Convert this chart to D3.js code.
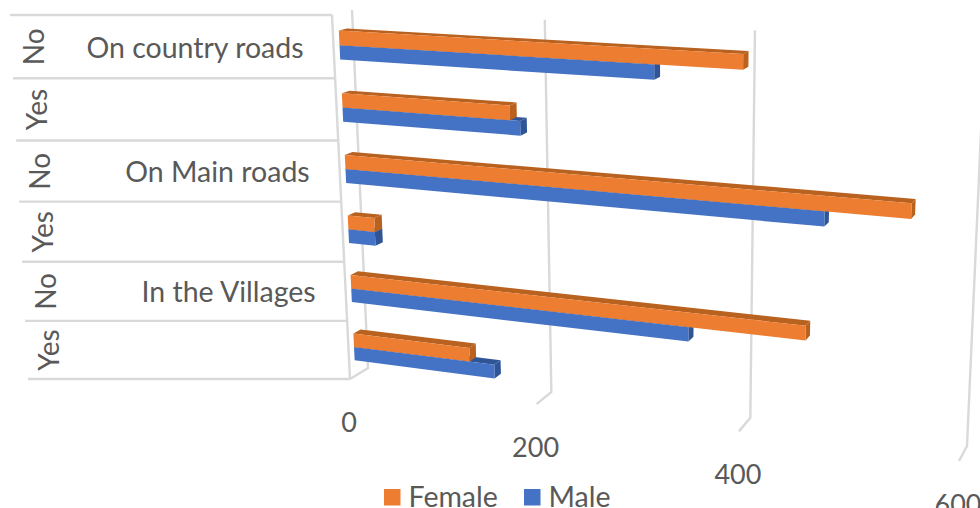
<!DOCTYPE html>
<html>
<head>
<meta charset="utf-8">
<script src="https://d3js.org/d3.v7.min.js"></script>
<style>
    body { margin: 0; background: #fff; }
    text { font-family: Lato, sans-serif; fill: #595959; }
</style>
</head>
<body>
<svg id="chart" width="980" height="508"></svg>
<script>
// Rows run top to bottom
const answers = ["No", "Yes", "No", "Yes", "No", "Yes"];
const groups = ["On country roads", "", "On Main roads", "", "In the Villages", ""];
const female = [398, 175, 549, 29, 458, 126];
const male = [316, 185, 473, 29, 348, 152];
const seriesNames = ["Female", "Male"];
const seriesColors = ["#ED7D31", "#4472C4"];
const sideColors = ["#B9611F", "#2F5597"];
const tickValues = [0, 200, 400, 600];

const svg = d3.select("#chart");
const gridColor = "#D9D9D9";

// Corners of the plot box: top-left, top-right, bottom-right, bottom-left
const backWall = [[352, 10], [985, 42], [967, 446], [368, 368]];
const frontWall = [[332, 15], [975, 51], [959, 461], [350, 379]];

// Maps the unit square onto a four sided shape
function quadProjection(q) {
    let sx = q[0][0] - q[1][0] + q[2][0] - q[3][0];
    let sy = q[0][1] - q[1][1] + q[2][1] - q[3][1];
    let dx1 = q[1][0] - q[2][0], dx2 = q[3][0] - q[2][0];
    let dy1 = q[1][1] - q[2][1], dy2 = q[3][1] - q[2][1];
    let det = dx1 * dy2 - dx2 * dy1;
    let g = (sx * dy2 - dx2 * sy) / det;
    let h = (dx1 * sy - sx * dy1) / det;
    return function (u, v) {
        let w = 1 + g * u + h * v;
        return [
            (q[1][0] - q[0][0] + g * q[1][0]) * u / w + (q[3][0] - q[0][0] + h * q[3][0]) * v / w + q[0][0] / w,
            (q[1][1] - q[0][1] + g * q[1][1]) * u / w + (q[3][1] - q[0][1] + h * q[3][1]) * v / w + q[0][1] / w
        ];
    };
}

// u along the value axis, v down the rows, d from back wall (0) to front (1)
function project(u, v, d) {
    let q = backWall.map((p, i) => [
        p[0] + (frontWall[i][0] - p[0]) * d,
        p[1] + (frontWall[i][1] - p[1]) * d
    ]);
    return quadProjection(q)(u, v);
}

const x = d3.scaleLinear().domain([0, 600]).range([0, 1]);
const row = d3.scaleBand().domain(d3.range(answers.length)).range([0, 1]);
const inner = d3.scaleBand().domain(seriesNames).range([0.27, 0.73]);

const line = d3.line();
const polygon = pts => line(pts) + "Z";

// Walls
const walls = svg.append("g")
    .attr("fill", "none")
    .attr("stroke", gridColor)
    .attr("stroke-width", 2.4);

tickValues.forEach(t => {
    walls.append("path").attr("d", line([
        project(x(t), 0, 0),
        project(x(t), 1, 0),
        project(x(t), 1, 1)
    ]));
});

walls.append("path").attr("d", line([project(0, 0, 1), project(0, 1, 1)]));

// Category dividers run out to the left of the front edge
const labelEdge = d3.scaleLinear().domain([15, 379]).range([10, 28]);
d3.range(answers.length + 1).forEach(i => {
    let v = i / answers.length;
    let p = project(0, v, 1);
    walls.append("path").attr("d", line([[labelEdge(p[1]), p[1]], p]));
});

// Bars
const bars = svg.append("g");
const seriesValues = [female, male];
[1, 0].forEach(s => {
    seriesValues[s].forEach((value, i) => {
        let v0 = row(i) + row.bandwidth() * inner(seriesNames[s]);
        let v1 = v0 + row.bandwidth() * inner.bandwidth();
        let u = x(value);
        const dFront = 0.7, dBack = 0.3;

        bars.append("path")
            .attr("fill", sideColors[s])
            .attr("d", polygon([project(0, v0, dFront), project(0, v0, dBack), project(u, v0, dBack), project(u, v0, dFront)]));
        bars.append("path")
            .attr("fill", sideColors[s])
            .attr("d", polygon([project(u, v0, dFront), project(u, v0, dBack), project(u, v1, dBack), project(u, v1, dFront)]));
        bars.append("path")
            .attr("fill", seriesColors[s])
            .attr("d", polygon([project(0, v0, dFront), project(u, v0, dFront), project(u, v1, dFront), project(0, v1, dFront)]));
    });
});

// Category labels
answers.forEach((a, i) => {
    let p = project(0, row(i) + row.bandwidth() / 2, 1);
    svg.append("text")
        .text(a)
        .attr("font-size", 28)
        .attr("text-anchor", "middle")
        .attr("dominant-baseline", "central")
        .attr("transform", `translate(${labelEdge(p[1]) + 21}, ${p[1]}) rotate(-90)`);
    if (groups[i]) {
        svg.append("text")
            .text(groups[i])
            .attr("x", p[0] - 30)
            .attr("y", p[1])
            .attr("font-size", 28.5)
            .attr("text-anchor", "end")
            .attr("dominant-baseline", "central");
    }
});

// Value axis labels sit under the floor
tickValues.forEach(t => {
    let p = project(x(t), 1, 1);
    svg.append("text")
        .text(t)
        .attr("x", p[0] - 1)
        .attr("y", p[1] + 42)
        .attr("font-size", 27)
        .attr("text-anchor", "middle")
        .attr("dominant-baseline", "central");
});

// Legend
const legendX = d3.scaleOrdinal().domain(seriesNames).range([384, 524]);
seriesNames.forEach((name, s) => {
    svg.append("rect")
        .attr("x", legendX(name))
        .attr("y", 489)
        .attr("width", 16.5)
        .attr("height", 16.5)
        .attr("fill", seriesColors[s]);
    svg.append("text")
        .text(name)
        .attr("x", legendX(name) + 24.5)
        .attr("y", 496)
        .attr("font-size", 28.5)
        .attr("dominant-baseline", "central");
});
</script>
</body>
</html>
